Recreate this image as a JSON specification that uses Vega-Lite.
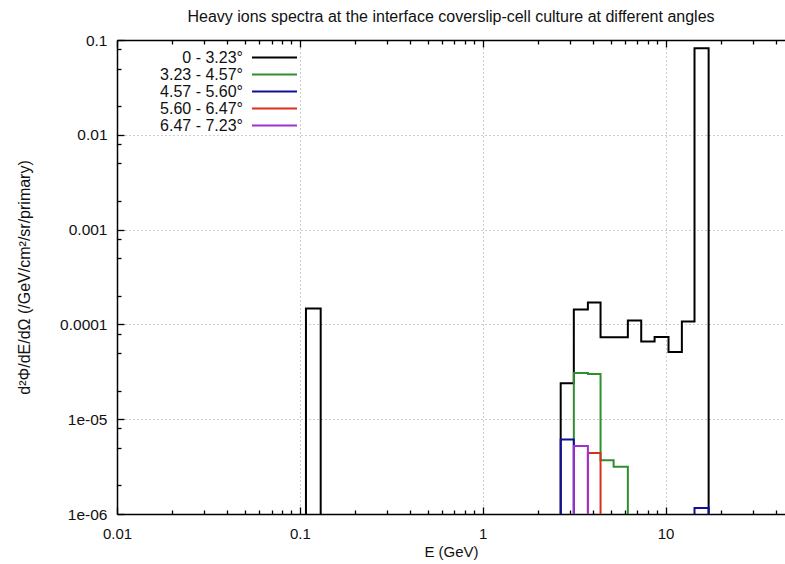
{
  "$schema": "https://vega.github.io/schema/vega-lite/v6.json",
  "width": 668,
  "height": 474,
  "autosize": {"type": "none"},
  "padding": {"left": 117, "top": 40, "right": 0, "bottom": 50},
  "background": "white",
  "config": {
    "view": {"stroke": null},
    "font": "Liberation Sans"
  },
  "title": {
    "text": "Heavy ions spectra at the interface coverslip-cell culture at different angles",
    "font": "Liberation Sans",
    "fontSize": 16,
    "fontWeight": "normal",
    "color": "#111111",
    "offset": 8,
    "anchor": "middle"
  },
  "data": {
    "values": [
      {"s": "0 - 3.23°", "g": "k1", "i": 0, "e": 0.108, "v": 1e-6},
      {"s": "0 - 3.23°", "g": "k1", "i": 1, "e": 0.108, "v": 1.47e-4},
      {"s": "0 - 3.23°", "g": "k1", "i": 2, "e": 0.13, "v": 1e-6},
      {"s": "0 - 3.23°", "g": "k2", "i": 3, "e": 2.67, "v": 1e-6},
      {"s": "0 - 3.23°", "g": "k2", "i": 4, "e": 2.67, "v": 2.4e-5},
      {"s": "0 - 3.23°", "g": "k2", "i": 5, "e": 3.15, "v": 1.44e-4},
      {"s": "0 - 3.23°", "g": "k2", "i": 6, "e": 3.76, "v": 1.7e-4},
      {"s": "0 - 3.23°", "g": "k2", "i": 7, "e": 4.41, "v": 7.3e-5},
      {"s": "0 - 3.23°", "g": "k2", "i": 8, "e": 5.2, "v": 7.3e-5},
      {"s": "0 - 3.23°", "g": "k2", "i": 9, "e": 6.22, "v": 1.1e-4},
      {"s": "0 - 3.23°", "g": "k2", "i": 10, "e": 7.36, "v": 6.6e-5},
      {"s": "0 - 3.23°", "g": "k2", "i": 11, "e": 8.71, "v": 7.35e-5},
      {"s": "0 - 3.23°", "g": "k2", "i": 12, "e": 10.38, "v": 5.1e-5},
      {"s": "0 - 3.23°", "g": "k2", "i": 13, "e": 12.28, "v": 1.07e-4},
      {"s": "0 - 3.23°", "g": "k2", "i": 14, "e": 14.4, "v": 0.082},
      {"s": "0 - 3.23°", "g": "k2", "i": 15, "e": 17.2, "v": 1e-6},
      {"s": "3.23 - 4.57°", "g": "g1", "i": 16, "e": 3.15, "v": 1e-6},
      {"s": "3.23 - 4.57°", "g": "g1", "i": 17, "e": 3.15, "v": 3.07e-5},
      {"s": "3.23 - 4.57°", "g": "g1", "i": 18, "e": 3.76, "v": 3.0e-5},
      {"s": "3.23 - 4.57°", "g": "g1", "i": 19, "e": 4.41, "v": 3.7e-6},
      {"s": "3.23 - 4.57°", "g": "g1", "i": 20, "e": 5.2, "v": 3.15e-6},
      {"s": "3.23 - 4.57°", "g": "g1", "i": 21, "e": 6.22, "v": 1e-6},
      {"s": "4.57 - 5.60°", "g": "b1", "i": 22, "e": 2.67, "v": 1e-6},
      {"s": "4.57 - 5.60°", "g": "b1", "i": 23, "e": 2.67, "v": 6.1e-6},
      {"s": "4.57 - 5.60°", "g": "b1", "i": 24, "e": 3.15, "v": 1e-6},
      {"s": "4.57 - 5.60°", "g": "b2", "i": 25, "e": 14.4, "v": 1e-6},
      {"s": "4.57 - 5.60°", "g": "b2", "i": 26, "e": 14.4, "v": 1.16e-6},
      {"s": "4.57 - 5.60°", "g": "b2", "i": 27, "e": 17.2, "v": 1e-6},
      {"s": "5.60 - 6.47°", "g": "r1", "i": 28, "e": 3.76, "v": 1e-6},
      {"s": "5.60 - 6.47°", "g": "r1", "i": 29, "e": 3.76, "v": 4.4e-6},
      {"s": "5.60 - 6.47°", "g": "r1", "i": 30, "e": 4.41, "v": 1e-6},
      {"s": "6.47 - 7.23°", "g": "p1", "i": 31, "e": 3.15, "v": 1e-6},
      {"s": "6.47 - 7.23°", "g": "p1", "i": 32, "e": 3.15, "v": 5.2e-6},
      {"s": "6.47 - 7.23°", "g": "p1", "i": 33, "e": 3.76, "v": 1e-6}
    ]
  },
  "resolve": {"axis": {"x": "independent", "y": "independent"}},
  "layer": [
    {
      "mark": {"type": "line", "interpolate": "step-after", "strokeWidth": 2, "clip": true},
      "encoding": {
        "x": {
          "field": "e", "type": "quantitative",
          "scale": {"type": "log", "domain": [0.01, 45], "nice": false},
          "axis": {
            "orient": "bottom",
            "title": "E (GeV)",
            "titleFont": "Liberation Sans", "titleFontSize": 15, "titleFontWeight": "normal", "titleColor": "#111111",
            "titlePadding": 3,
            "values": [0.01, 0.1, 1, 10],
            "labelExpr": "format(datum.value, '~g')",
            "labelFont": "Liberation Sans", "labelFontSize": 15, "labelColor": "#111111",
            "labelPadding": 19,
            "labelFlush": false,
            "labelOverlap": false,
            "domainColor": "#000000", "domainWidth": 1.5,
            "ticks": true,
            "tickColor": "#000000", "tickWidth": 1.3,
            "tickSize": -7,
            "grid": true,
            "gridColor": "#9a9a9a", "gridDash": [1, 3], "gridWidth": 1,
            "gridOpacity": {"condition": {"test": "datum.value > 0.011", "value": 1}, "value": 0}
          }
        },
        "y": {
          "field": "v", "type": "quantitative",
          "scale": {"type": "log", "domain": [1e-6, 0.1], "nice": false},
          "axis": {
            "orient": "left",
            "title": "d²Φ/dE/dΩ (/GeV/cm²/sr/primary)",
            "titleFont": "Liberation Sans", "titleFontSize": 16, "titleFontWeight": "normal", "titleColor": "#111111",
            "titlePadding": 27,
            "values": [1e-6, 1e-5, 1e-4, 0.001, 0.01, 0.1],
            "labelExpr": "datum.value < 0.00005 ? '1e-0' + round(-log(datum.value)/LN10) : format(datum.value, '~g')",
            "labelFont": "Liberation Sans", "labelFontSize": 15.5, "labelColor": "#111111",
            "labelPadding": 17,
            "labelFlush": false,
            "labelOverlap": false,
            "domainColor": "#000000", "domainWidth": 1.5,
            "ticks": true,
            "tickColor": "#000000", "tickWidth": 1.3,
            "tickSize": -7,
            "grid": true,
            "gridColor": "#9a9a9a", "gridDash": [1, 3], "gridWidth": 1,
            "gridOpacity": {"condition": {"test": "datum.value > 1.1e-6 && datum.value < 0.09", "value": 1}, "value": 0}
          }
        },
        "color": {
          "field": "s", "type": "nominal",
          "scale": {
            "domain": ["0 - 3.23°", "3.23 - 4.57°", "4.57 - 5.60°", "5.60 - 6.47°", "6.47 - 7.23°"],
            "range": ["#000000", "#2f8f2f", "#10109a", "#d83020", "#a030d0"]
          },
          "legend": {
            "title": null,
            "orient": "none",
            "legendX": 35,
            "legendY": 9,
            "symbolType": "M-3,0H3",
            "symbolSize": 225,
            "symbolStrokeWidth": 2,
            "symbolFillColor": "transparent",
            "labelAlign": "right",
            "labelOffset": -40,
            "symbolOffset": 114,
            "labelFont": "Liberation Sans",
            "labelFontSize": 16,
            "labelColor": "#111111",
            "rowPadding": 0,
            "labelLimit": 200
          }
        },
        "detail": {"field": "g", "type": "nominal"},
        "order": {"field": "i", "type": "quantitative"}
      }
    },
    {
      "mark": {"type": "line", "opacity": 0},
      "encoding": {
        "x": {
          "field": "e", "type": "quantitative",
          "axis": {
            "orient": "top", "title": null, "labels": false, "grid": false,
            "values": [0.01, 0.1, 1, 10],
            "domainColor": "#000000", "domainWidth": 1.5,
            "ticks": true, "tickColor": "#000000", "tickWidth": 1.3, "tickSize": -7
          }
        },
        "y": {"field": "v", "type": "quantitative", "axis": null},
        "detail": {"field": "g", "type": "nominal"}
      }
    },
    {
      "mark": {"type": "line", "opacity": 0},
      "encoding": {
        "x": {
          "field": "e", "type": "quantitative",
          "axis": {
            "orient": "top", "title": null, "labels": false, "grid": false, "domain": false,
            "values": [0.02,0.03,0.04,0.05,0.06,0.07,0.08,0.09,0.2,0.3,0.4,0.5,0.6,0.7,0.8,0.9,2,3,4,5,6,7,8,9,20,30,40],
            "ticks": true, "tickColor": "#000000", "tickWidth": 1.3, "tickSize": -4
          }
        },
        "y": {"field": "v", "type": "quantitative", "axis": null},
        "detail": {"field": "g", "type": "nominal"}
      }
    },
    {
      "mark": {"type": "line", "opacity": 0},
      "encoding": {
        "x": {
          "field": "e", "type": "quantitative",
          "axis": {
            "orient": "bottom", "title": null, "labels": false, "grid": false, "domain": false,
            "values": [0.02,0.03,0.04,0.05,0.06,0.07,0.08,0.09,0.2,0.3,0.4,0.5,0.6,0.7,0.8,0.9,2,3,4,5,6,7,8,9,20,30,40],
            "ticks": true, "tickColor": "#000000", "tickWidth": 1.3, "tickSize": -4
          }
        },
        "y": {
          "field": "v", "type": "quantitative",
          "axis": {
            "orient": "left", "title": null, "labels": false, "grid": false, "domain": false,
            "values": [2e-6,5e-6,8e-6,2e-5,5e-5,8e-5,2e-4,5e-4,8e-4,0.002,0.005,0.008,0.02,0.05,0.08],
            "ticks": true, "tickColor": "#000000", "tickWidth": 1.3, "tickSize": -4
          }
        },
        "detail": {"field": "g", "type": "nominal"}
      }
    }
  ]
}
